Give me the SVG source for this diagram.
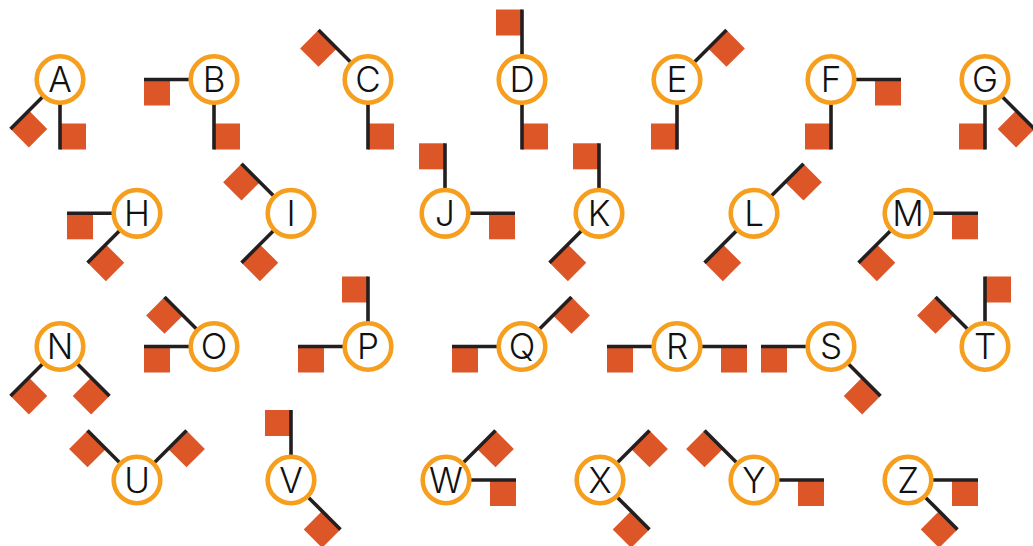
<svg xmlns="http://www.w3.org/2000/svg" xmlns:xlink="http://www.w3.org/1999/xlink" width="1033" height="546" viewBox="0 0 1033 546">
<style>
.ring{fill:#ffffff;stroke:#F69F1E;stroke-width:4.6}
.lbl{font-family:Inter,Lato,"Liberation Sans",sans-serif;font-weight:300;font-size:35px;fill:#111111;text-anchor:middle}
.pole{stroke:#231F20;stroke-width:3.6}
.flag{fill:#DC5627}
</style>
<defs>
<g id="fp"><rect class="flag" x="44" y="0" width="26" height="26"/><line class="pole" x1="0" y1="0" x2="70" y2="0"/></g>
<g id="fm"><rect class="flag" x="44" y="-26" width="26" height="26"/><line class="pole" x1="0" y1="0" x2="70" y2="0"/></g>
</defs>
<rect width="1033" height="546" fill="#ffffff"/>

<g id="A" transform="translate(60,79.5)"><use xlink:href="#fm" href="#fm" transform="rotate(90)"/><use href="#fm" xlink:href="#fm" transform="rotate(135)"/><circle class="ring" r="23.3"/><text class="lbl" y="12.5">A</text></g>
<g id="B" transform="translate(214,79.5)"><use href="#fm" xlink:href="#fm" transform="rotate(180)"/><use href="#fm" xlink:href="#fm" transform="rotate(90)"/><circle class="ring" r="23.3"/><text class="lbl" y="12.5">B</text></g>
<g id="C" transform="translate(368,79.5)"><use href="#fm" xlink:href="#fm" transform="rotate(225)"/><use href="#fm" xlink:href="#fm" transform="rotate(90)"/><circle class="ring" r="23.3"/><text class="lbl" y="12.5">C</text></g>
<g id="D" transform="translate(522,79.5)"><use href="#fm" xlink:href="#fm" transform="rotate(270)"/><use href="#fm" xlink:href="#fm" transform="rotate(90)"/><circle class="ring" r="23.3"/><text class="lbl" y="12.5">D</text></g>
<g id="E" transform="translate(677,79.5)"><use href="#fp" xlink:href="#fp" transform="rotate(315)"/><use href="#fp" xlink:href="#fp" transform="rotate(90)"/><circle class="ring" r="23.3"/><text class="lbl" y="12.5">E</text></g>
<g id="F" transform="translate(831,79.5)"><use href="#fp" xlink:href="#fp" transform="rotate(0)"/><use href="#fp" xlink:href="#fp" transform="rotate(90)"/><circle class="ring" r="23.3"/><text class="lbl" y="12.5">F</text></g>
<g id="G" transform="translate(985,79.5)"><use href="#fp" xlink:href="#fp" transform="rotate(45)"/><use href="#fp" xlink:href="#fp" transform="rotate(90)"/><circle class="ring" r="23.3"/><text class="lbl" y="12.5">G</text></g>

<g id="H" transform="translate(137,213.3)"><use href="#fm" xlink:href="#fm" transform="rotate(180)"/><use href="#fm" xlink:href="#fm" transform="rotate(135)"/><circle class="ring" r="23.3"/><text class="lbl" y="12.5">H</text></g>
<g id="I" transform="translate(291,213.3)"><use href="#fm" xlink:href="#fm" transform="rotate(225)"/><use href="#fm" xlink:href="#fm" transform="rotate(135)"/><circle class="ring" r="23.3"/><text class="lbl" y="12.5">I</text></g>
<g id="J" transform="translate(445,213.3)"><use href="#fm" xlink:href="#fm" transform="rotate(270)"/><use href="#fp" xlink:href="#fp" transform="rotate(0)"/><circle class="ring" r="23.3"/><text class="lbl" y="12.5">J</text></g>
<g id="K" transform="translate(599,213.3)"><use href="#fm" xlink:href="#fm" transform="rotate(270)"/><use href="#fm" xlink:href="#fm" transform="rotate(135)"/><circle class="ring" r="23.3"/><text class="lbl" y="12.5">K</text></g>
<g id="L" transform="translate(754,213.3)"><use href="#fp" xlink:href="#fp" transform="rotate(315)"/><use href="#fm" xlink:href="#fm" transform="rotate(135)"/><circle class="ring" r="23.3"/><text class="lbl" y="12.5">L</text></g>
<g id="M" transform="translate(908,213.3)"><use href="#fp" xlink:href="#fp" transform="rotate(0)"/><use href="#fm" xlink:href="#fm" transform="rotate(135)"/><circle class="ring" r="23.3"/><text class="lbl" y="12.5">M</text></g>

<g id="N" transform="translate(60,346.5)"><use href="#fm" xlink:href="#fm" transform="rotate(135)"/><use href="#fp" xlink:href="#fp" transform="rotate(45)"/><circle class="ring" r="23.3"/><text class="lbl" y="12.5">N</text></g>
<g id="O" transform="translate(214,346.5)"><use href="#fm" xlink:href="#fm" transform="rotate(225)"/><use href="#fm" xlink:href="#fm" transform="rotate(180)"/><circle class="ring" r="23.3"/><text class="lbl" y="12.5">O</text></g>
<g id="P" transform="translate(368,346.5)"><use href="#fm" xlink:href="#fm" transform="rotate(270)"/><use href="#fm" xlink:href="#fm" transform="rotate(180)"/><circle class="ring" r="23.3"/><text class="lbl" y="12.5">P</text></g>
<g id="Q" transform="translate(522,346.5)"><use href="#fp" xlink:href="#fp" transform="rotate(315)"/><use href="#fm" xlink:href="#fm" transform="rotate(180)"/><circle class="ring" r="23.3"/><text class="lbl" y="12.5">Q</text></g>
<g id="R" transform="translate(677,346.5)"><use href="#fm" xlink:href="#fm" transform="rotate(180)"/><use href="#fp" xlink:href="#fp" transform="rotate(0)"/><circle class="ring" r="23.3"/><text class="lbl" y="12.5">R</text></g>
<g id="S" transform="translate(831,346.5)"><use href="#fm" xlink:href="#fm" transform="rotate(180)"/><use href="#fp" xlink:href="#fp" transform="rotate(45)"/><circle class="ring" r="23.3"/><text class="lbl" y="12.5">S</text></g>
<g id="T" transform="translate(985,346.5)"><use href="#fm" xlink:href="#fm" transform="rotate(225)"/><use href="#fp" xlink:href="#fp" transform="rotate(270)"/><circle class="ring" r="23.3"/><text class="lbl" y="12.5">T</text></g>

<g id="U" transform="translate(137,480)"><use href="#fm" xlink:href="#fm" transform="rotate(225)"/><use href="#fp" xlink:href="#fp" transform="rotate(315)"/><circle class="ring" r="23.3"/><text class="lbl" y="12.5">U</text></g>
<g id="V" transform="translate(291,480)"><use href="#fm" xlink:href="#fm" transform="rotate(270)"/><use href="#fp" xlink:href="#fp" transform="rotate(45)"/><circle class="ring" r="23.3"/><text class="lbl" y="12.5">V</text></g>
<g id="W" transform="translate(446,480)"><use href="#fp" xlink:href="#fp" transform="rotate(315)"/><use href="#fp" xlink:href="#fp" transform="rotate(0)"/><circle class="ring" r="23.3"/><text class="lbl" y="12.5">W</text></g>
<g id="X" transform="translate(600,480)"><use href="#fp" xlink:href="#fp" transform="rotate(315)"/><use href="#fp" xlink:href="#fp" transform="rotate(45)"/><circle class="ring" r="23.3"/><text class="lbl" y="12.5">X</text></g>
<g id="Y" transform="translate(754,480)"><use href="#fm" xlink:href="#fm" transform="rotate(225)"/><use href="#fp" xlink:href="#fp" transform="rotate(0)"/><circle class="ring" r="23.3"/><text class="lbl" y="12.5">Y</text></g>
<g id="Z" transform="translate(908,480)"><use href="#fp" xlink:href="#fp" transform="rotate(0)"/><use href="#fp" xlink:href="#fp" transform="rotate(45)"/><circle class="ring" r="23.3"/><text class="lbl" y="12.5">Z</text></g>
<g id="connectors"/>
</svg>
